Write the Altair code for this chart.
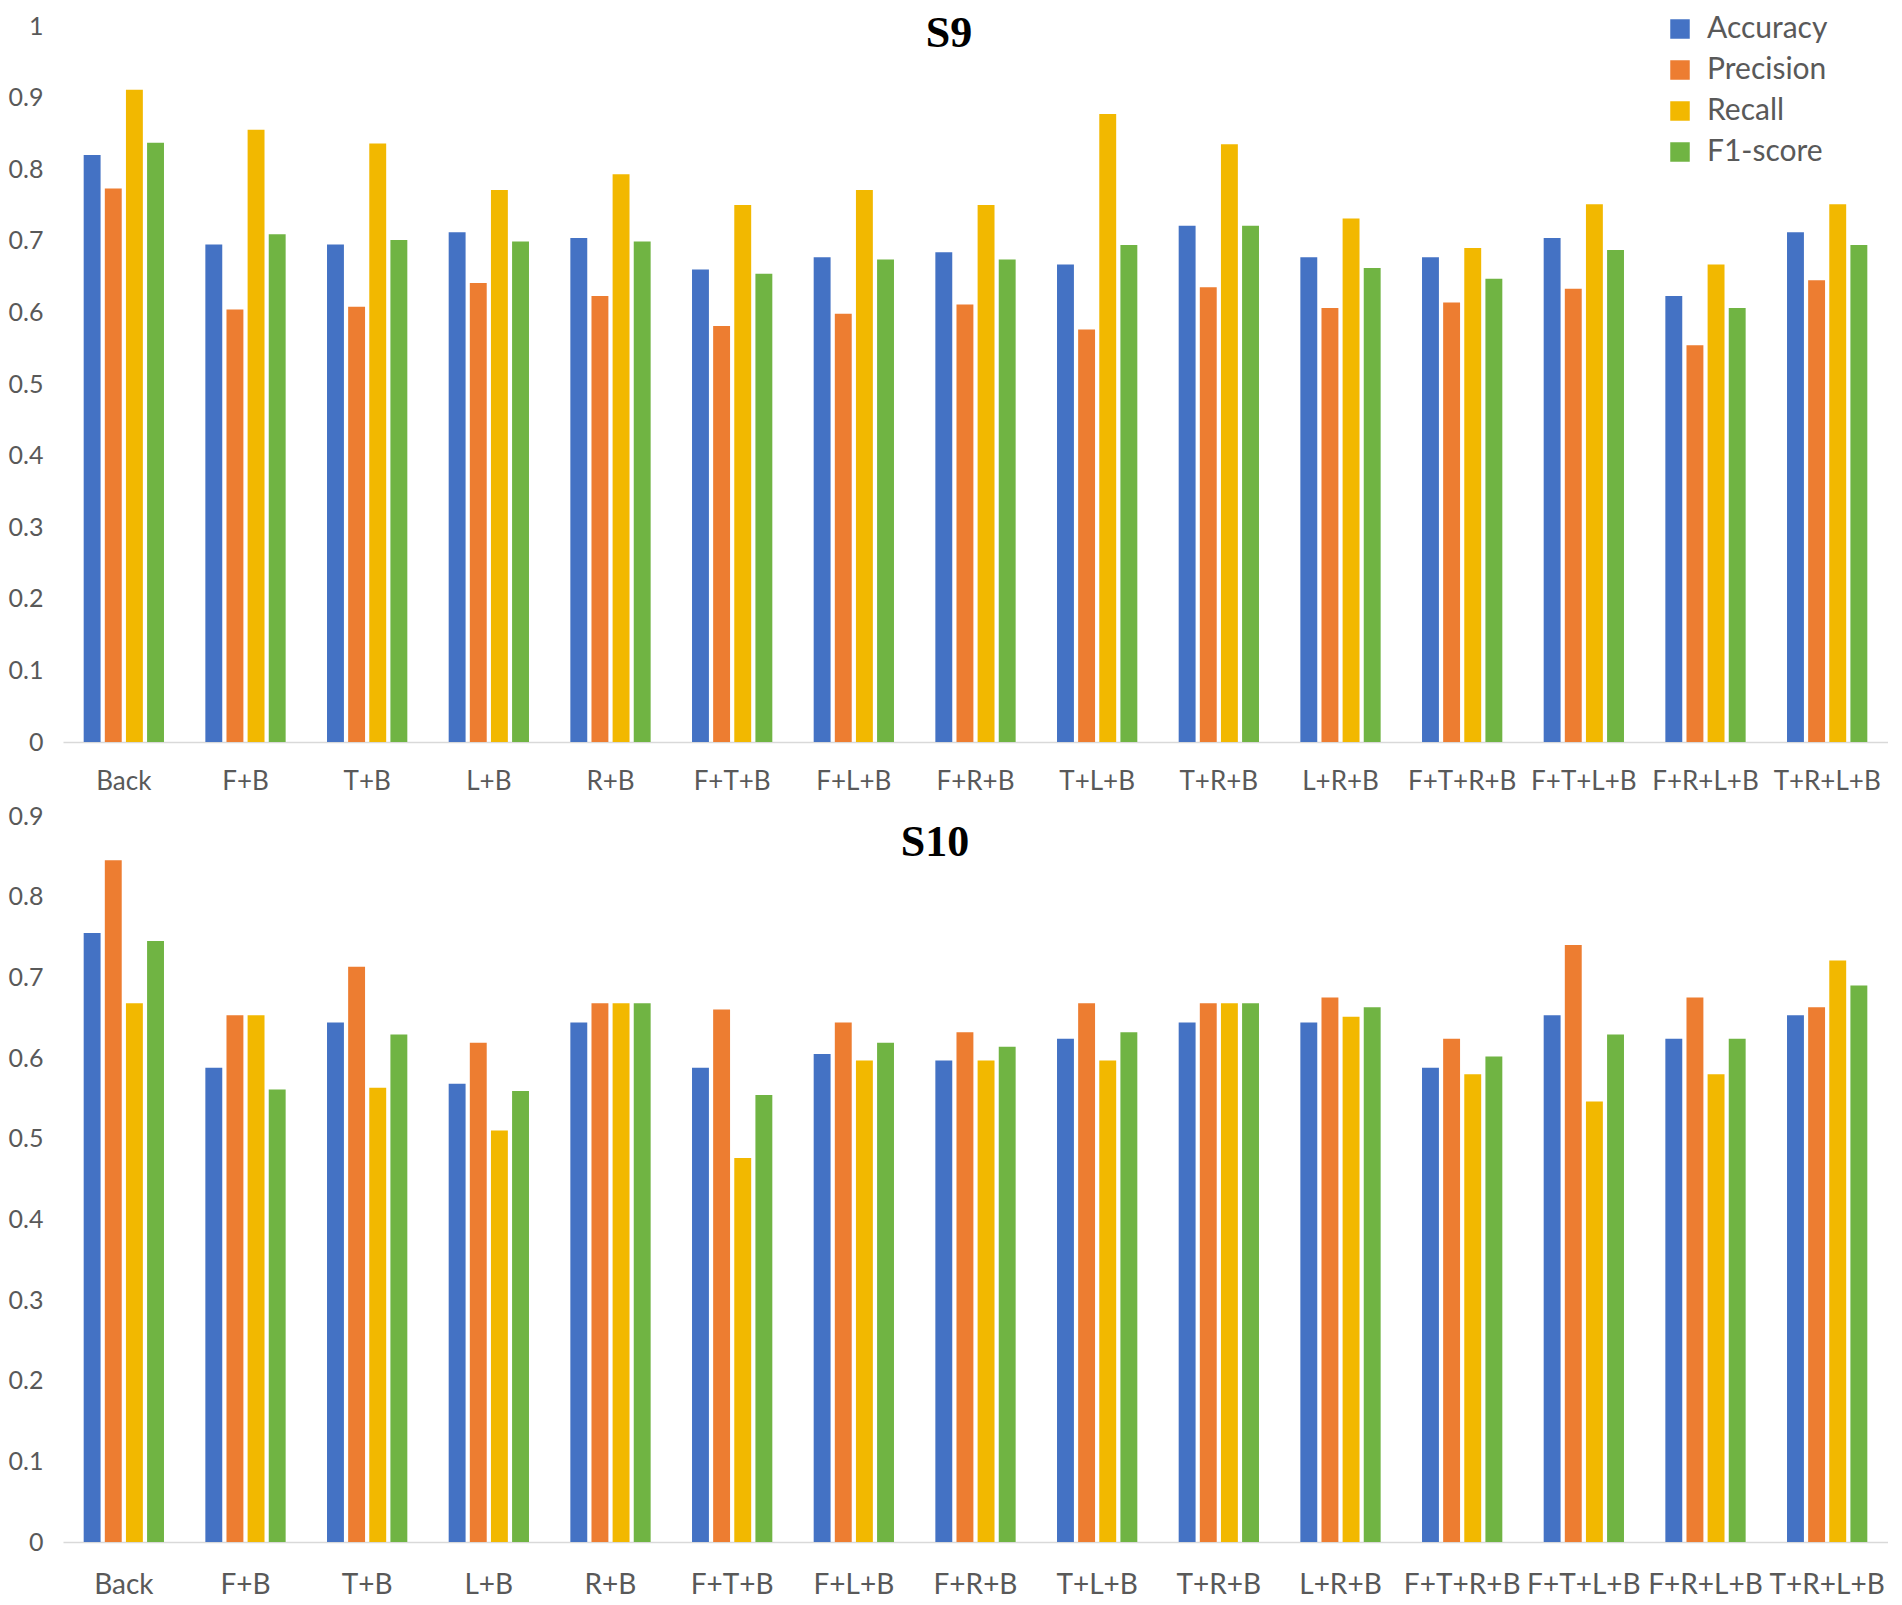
import altair as alt
import pandas as pd

categories = ["Back", "F+B", "T+B", "L+B", "R+B", "F+T+B", "F+L+B", "F+R+B",
              "T+L+B", "T+R+B", "L+R+B", "F+T+R+B", "F+T+L+B", "F+R+L+B", "T+R+L+B"]
metrics = ["Accuracy", "Precision", "Recall", "F1-score"]
colors = ["#4472C4", "#ED7D31", "#F2B800", "#70B443"]

s9_accuracy = [0.820, 0.695, 0.695, 0.712, 0.704, 0.660, 0.677, 0.684, 0.667, 0.721, 0.677, 0.677, 0.704, 0.623, 0.712]
s9_precision = [0.773, 0.604, 0.608, 0.641, 0.623, 0.581, 0.598, 0.611, 0.576, 0.635, 0.606, 0.614, 0.633, 0.554, 0.645]
s9_recall = [0.911, 0.855, 0.836, 0.771, 0.793, 0.750, 0.771, 0.750, 0.877, 0.835, 0.731, 0.690, 0.751, 0.667, 0.751]
s9_f1 = [0.837, 0.709, 0.701, 0.699, 0.699, 0.654, 0.674, 0.674, 0.694, 0.721, 0.662, 0.647, 0.687, 0.606, 0.694]

s10_accuracy = [0.755, 0.588, 0.644, 0.568, 0.644, 0.588, 0.605, 0.597, 0.624, 0.644, 0.644, 0.588, 0.653, 0.624, 0.653]
s10_precision = [0.845, 0.653, 0.713, 0.619, 0.668, 0.660, 0.644, 0.632, 0.668, 0.668, 0.675, 0.624, 0.740, 0.675, 0.663]
s10_recall = [0.668, 0.653, 0.563, 0.510, 0.668, 0.476, 0.597, 0.597, 0.597, 0.668, 0.651, 0.580, 0.546, 0.580, 0.721]
s10_f1 = [0.745, 0.561, 0.629, 0.559, 0.668, 0.554, 0.619, 0.614, 0.632, 0.668, 0.663, 0.602, 0.629, 0.624, 0.690]

s9_ticks = [0, 0.1, 0.2, 0.3, 0.4, 0.5, 0.6, 0.7, 0.8, 0.9, 1]
s10_ticks = [0, 0.1, 0.2, 0.3, 0.4, 0.5, 0.6, 0.7, 0.8, 0.9]


def make_df(series):
    rows = []
    for m, vals in zip(metrics, series):
        for c, v in zip(categories, vals):
            rows.append({"Combination": c, "Metric": m, "Value": v})
    return pd.DataFrame(rows)


def panel(title, series, ymax, ticks, height, xlab_size, xlab_pad, title_x, title_y):
    df = make_df(series)
    bars = alt.Chart(df).mark_bar().encode(
        x=alt.X("Combination:N", sort=categories,
                scale=alt.Scale(paddingInner=0.34, paddingOuter=0.17),
                axis=alt.Axis(title=None, labelAngle=0, labelFontSize=xlab_size,
                              labelColor="#595959", labelFont="Lato",
                              labelPadding=xlab_pad, ticks=False,
                              domainColor="#D9D9D9", domainWidth=1.5,
                              labelOverlap=False, labelLimit=0)),
        xOffset=alt.XOffset("Metric:N", sort=metrics, scale=alt.Scale(paddingInner=0.2)),
        y=alt.Y("Value:Q", scale=alt.Scale(domain=[0, ymax], nice=False, zero=True),
                axis=alt.Axis(title=None, values=ticks, format="~g", grid=False,
                              domain=False, ticks=False, labelFontSize=25,
                              labelColor="#595959", labelFont="Lato", labelPadding=20)),
        color=alt.Color("Metric:N", sort=metrics,
                        scale=alt.Scale(domain=metrics, range=colors),
                        legend=alt.Legend(title=None, orient="none", legendX=1602, legendY=-12,
                                          symbolType="square", symbolSize=380,
                                          symbolStrokeWidth=0, labelFontSize=30,
                                          labelFont="Lato", labelColor="#595959",
                                          labelOffset=12, rowPadding=11)),
    )
    ttl = alt.Chart(pd.DataFrame({"t": [title]})).mark_text(
        font="Liberation Serif", fontSize=44, fontWeight="bold", color="black",
        align="center", baseline="middle",
    ).encode(text="t:N", x=alt.value(title_x), y=alt.value(title_y))
    return alt.layer(bars, ttl).properties(width=1825, height=height)


top = panel("S9", [s9_accuracy, s9_precision, s9_recall, s9_f1], 1.0, s9_ticks, 716, 26, 26, 886, 8)
bottom = panel("S10", [s10_accuracy, s10_precision, s10_recall, s10_f1], 0.9, s10_ticks, 726, 28, 29, 872, 27)

chart = alt.vconcat(top, bottom, spacing=10).properties(
    padding={"top": 4, "left": 0, "right": 0, "bottom": 0}
).configure_view(stroke=None)

chart.save("out.html", embed_options={"renderer": "svg", "actions": False})
